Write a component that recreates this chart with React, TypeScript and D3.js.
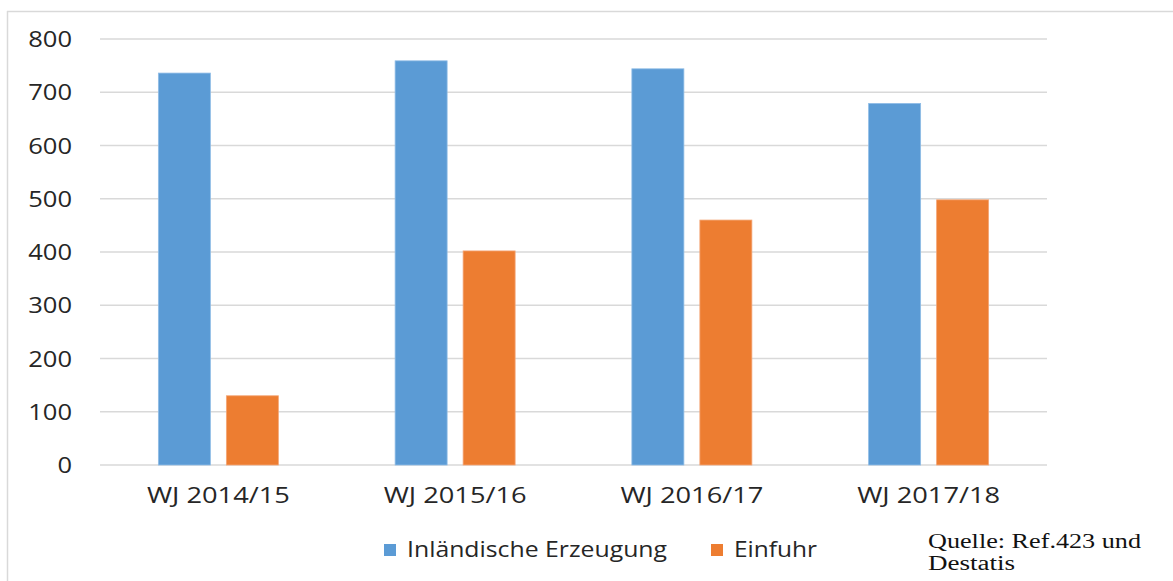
import React from "react";
import * as d3 from "d3";

const categories = ["WJ 2014/15", "WJ 2015/16", "WJ 2016/17", "WJ 2017/18"];
const inlaendisch = [736, 759, 744, 679];
const einfuhr = [130, 402, 460, 498];
const yTicks = [0, 100, 200, 300, 400, 500, 600, 700, 800];
const seriesNames = ["Inländische Erzeugung", "Einfuhr"];
const colors = ["#5b9bd5", "#ed7d31"];

const W = 1173;
const H = 581;
const plotLeft = 100;
const plotRight = 1047;
const plotTop = 39;
const plotBottom = 465;

export default function App() {
  const x = d3.scaleBand<string>().domain(categories).range([plotLeft, plotRight]).padding(0);
  const y = d3.scaleLinear().domain([0, 800]).range([plotBottom, plotTop]);
  const barW = 52;
  const gap = 16;
  const series = [inlaendisch, einfuhr];
  const sans = "'Open Sans', 'Liberation Sans', Arial, sans-serif";
  const serif = "'Liberation Serif', 'Times New Roman', serif";

  return (
    <svg
      width={W}
      height={H}
      style={{ position: "absolute", left: 0, top: 0, background: "#fff" }}
    >
      <rect x={0} y={0} width={W} height={H} fill="#fff" />
      {/* frame */}
      <line x1={7} y1={11.5} x2={W} y2={11.5} stroke="#d9d9d9" strokeWidth={1.5} />
      <line x1={7.5} y1={11} x2={7.5} y2={H} stroke="#d9d9d9" strokeWidth={1.5} />

      {/* gridlines */}
      {yTicks.map((t) => (
        <line
          key={"g" + t}
          x1={plotLeft}
          x2={plotRight}
          y1={y(t)}
          y2={y(t)}
          stroke="#d9d9d9"
          strokeWidth={1.5}
        />
      ))}

      {/* y labels */}
      {yTicks.map((t) => (
        <text
          key={"yl" + t}
          x={72}
          y={y(t) + 8}
          textAnchor="end"
          fontFamily={sans}
          fontSize={21}
          fill="#262626"
          textLength={String(t).length * 14.6}
          lengthAdjust="spacingAndGlyphs"
        >
          {t}
        </text>
      ))}

      {/* bars */}
      {categories.map((c, i) => {
        const cx = (x(c) as number) + x.bandwidth() / 2;
        const groupW = barW * 2 + gap;
        return series.map((s, k) => {
          const bx = cx - groupW / 2 + k * (barW + gap);
          return (
            <rect
              key={c + k}
              x={bx}
              y={y(s[i])}
              width={barW}
              height={y(0) - y(s[i])}
              fill={colors[k]}
              stroke={k === 0 ? "#8fbce6" : "#f4a677"}
              strokeWidth={0.8}
            />
          );
        });
      })}

      {/* x labels */}
      {categories.map((c) => (
        <text
          key={"xl" + c}
          x={(x(c) as number) + x.bandwidth() / 2}
          y={503}
          textAnchor="middle"
          fontFamily={sans}
          fontSize={21}
          fill="#262626"
          textLength={143}
          lengthAdjust="spacingAndGlyphs"
        >
          {c}
        </text>
      ))}

      {/* legend */}
      <rect x={384} y={544} width={12} height={12} fill={colors[0]} />
      <text
        x={407}
        y={557}
        fontFamily={sans}
        fontSize={21}
        fill="#262626"
        textLength={260}
        lengthAdjust="spacingAndGlyphs"
      >
        {seriesNames[0]}
      </text>
      <rect x={711} y={544} width={12} height={12} fill={colors[1]} />
      <text
        x={734}
        y={557}
        fontFamily={sans}
        fontSize={21}
        fill="#262626"
        textLength={83}
        lengthAdjust="spacingAndGlyphs"
      >
        {seriesNames[1]}
      </text>

      {/* source */}
      <text
        x={928}
        y={548}
        fontFamily={serif}
        fontSize={20}
        fill="#111"
        textLength={213}
        lengthAdjust="spacingAndGlyphs"
      >
        Quelle: Ref.423 und
      </text>
      <text
        x={928}
        y={570}
        fontFamily={serif}
        fontSize={20}
        fill="#111"
        textLength={87}
        lengthAdjust="spacingAndGlyphs"
      >
        Destatis
      </text>
    </svg>
  );
}
